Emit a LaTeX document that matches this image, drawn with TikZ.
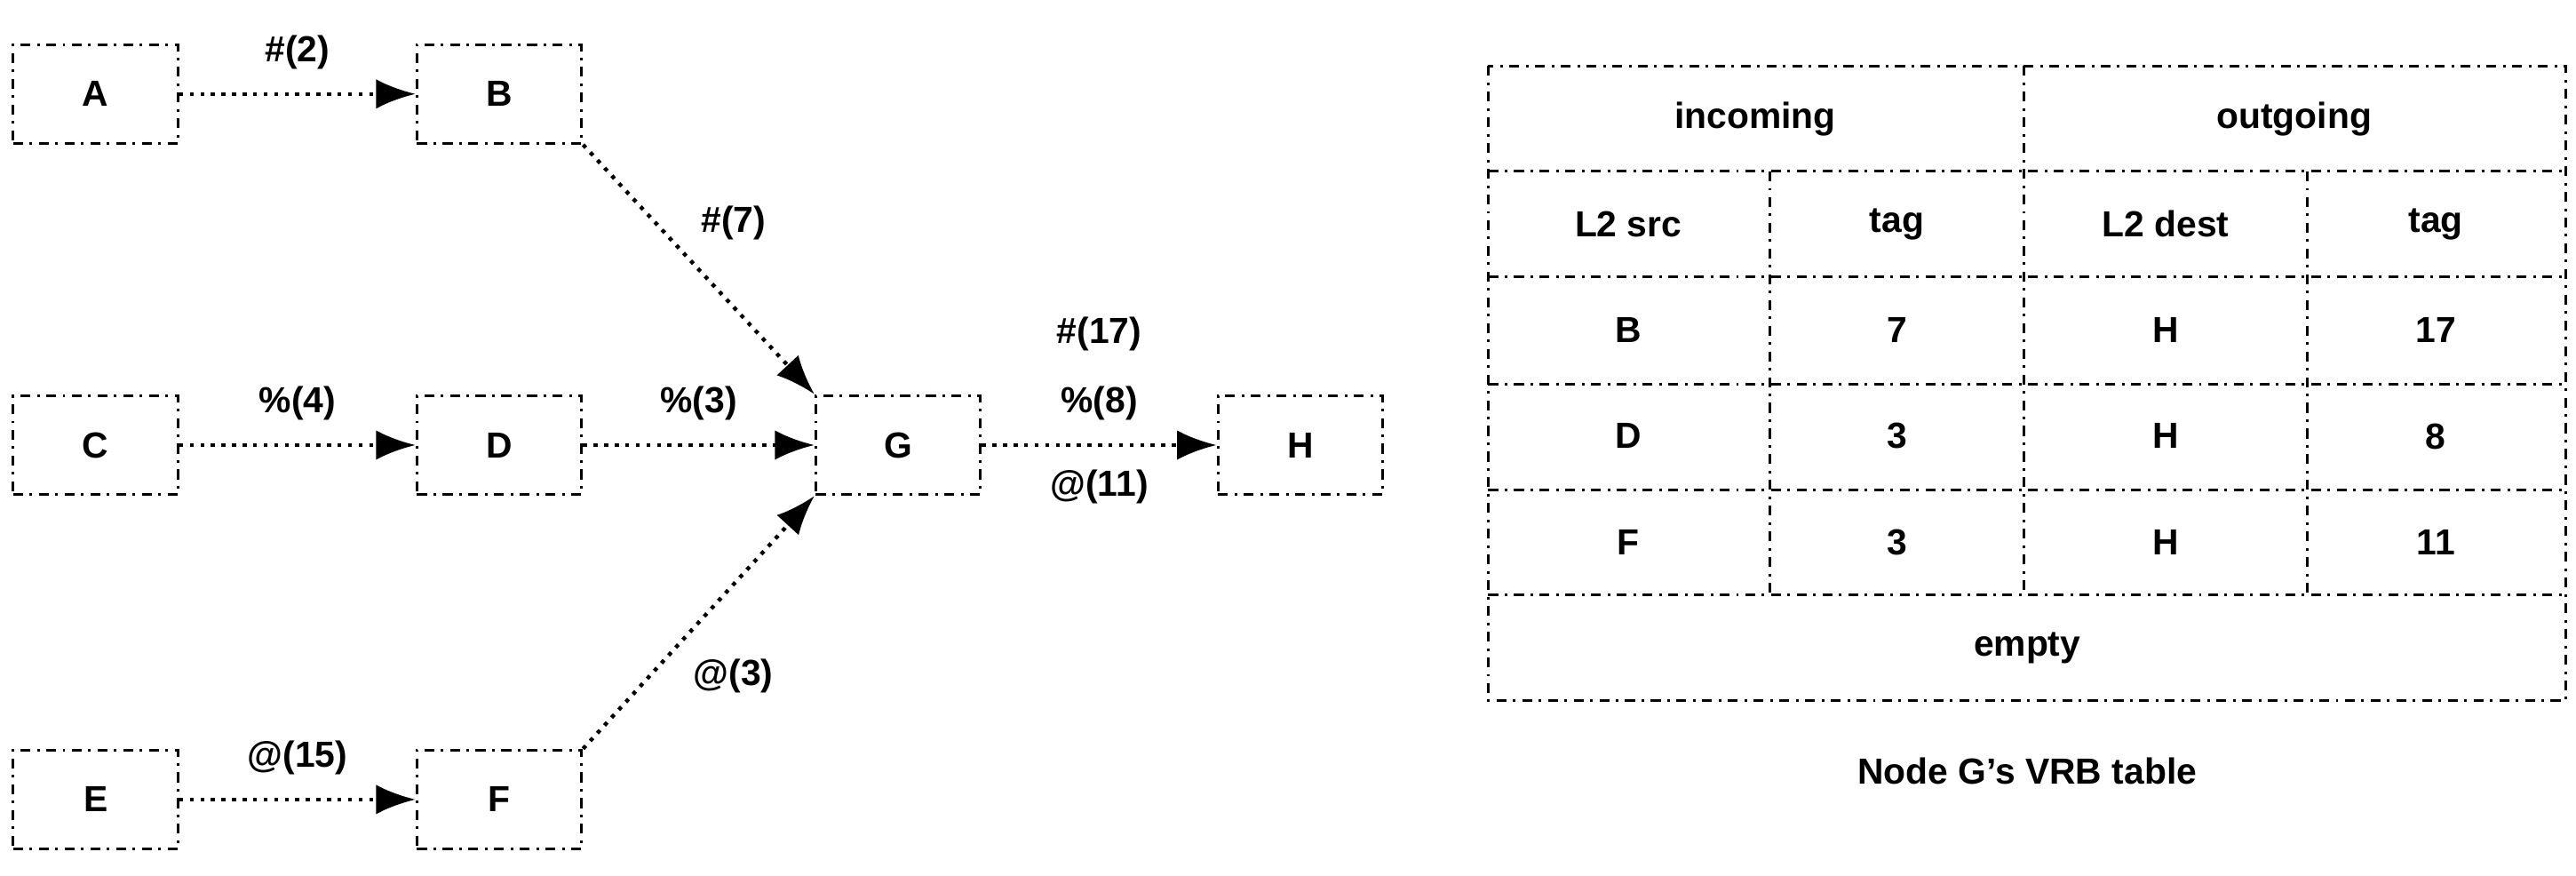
\documentclass[tikz,border=0pt]{standalone}
\usepackage{fontspec}
\setmainfont{Liberation Sans}
\usetikzlibrary{positioning,arrows.meta}

\begin{document}
\begin{tikzpicture}[
    x=0.5pt, y=-0.5pt,
    font=\fontsize{11}{13}\selectfont\bfseries,
    box/.style={rectangle, draw=black, thick, dash dot, minimum width=50pt,
      minimum height=30pt},
    link/.style={black, very thick, dotted, -{Latex[length=12pt,width=9pt]}},
    grid/.style={black, thick, dash dot},
    lbl/.style={inner sep=1pt}
  ]
  \useasboundingbox (0,0) rectangle (1563,531);

  % the nodes
  \node (A) [box] at (58,57)   {A};
  \node (B) [box] at (303,57)  {B};
  \node (C) [box] at (58,270)  {C};
  \node (D) [box] at (303,270) {D};
  \node (G) [box] at (545,270) {G};
  \node (H) [box] at (789,270) {H};
  \node (E) [box] at (58,485)  {E};
  \node (F) [box] at (303,485) {F};

  % links with their tags
  \draw[link] (A) -- (B)        node[lbl, midway, above=6pt] {\#(2)};
  \draw[link] (C) -- (D)        node[lbl, midway, above=6pt] {\%(4)};
  \draw[link] (D) -- (G)        node[lbl, midway, above=6pt] {\%(3)};
  \draw[link] (E) -- (F)        node[lbl, midway, above=6pt] {@(15)};
  \draw[link] (B.south east) -- (G.north west);
  \draw[link] (F.north east) -- (G.south west);
  \draw[link] (G) -- (H)        node[lbl, midway, above=6pt] (t8) {\%(8)}
                                node[lbl, midway, below=6pt] {@(11)};
  \node[lbl, above=8pt of t8]   {\#(17)};
  \node[lbl] at (445,135)       {\#(7)};
  \node[lbl] at (445,410)       {@(3)};

  % VRB table of node G
  \draw[grid] (903,40) rectangle (1557,425);
  \foreach \yy in {104,168,233,297,361}
    \draw[grid] (903,\yy) -- (1557,\yy);
  \draw[grid] (1228,40) -- (1228,361);
  \draw[grid] (1074,104) -- (1074,361);
  \draw[grid] (1400,104) -- (1400,361);

  \node (in)  at (1065,72)  {incoming};
  \node (out) at (1392,72)  {outgoing};
  \foreach \txt [count=\i] in {L2 src,tag,L2 dest,tag}
    \node (h\i) at ({\i==1 ? 988 : (\i==2 ? 1151 : (\i==3 ? 1314 : 1478))},136) {\txt};
  \foreach \s/\a/\d/\b [count=\r] in {B/7/H/17, D/3/H/8, F/3/H/11} {
    \node (s\r) at (988,{136+64.3*\r})  {\s};
    \node (a\r) at (1151,{136+64.3*\r}) {\a};
    \node (d\r) at (1314,{136+64.3*\r}) {\d};
    \node (b\r) at (1478,{136+64.3*\r}) {\b};
  }
  \node (empty) at (1230,393) {empty};
  \node (caption) at (1230,468) {Node G's VRB table};
\end{tikzpicture}
\end{document}
